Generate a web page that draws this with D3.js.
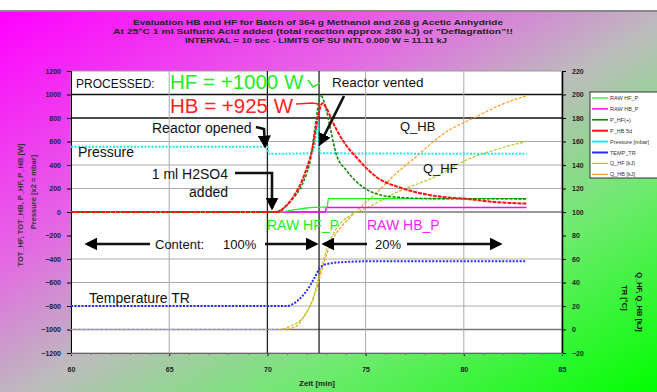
<!DOCTYPE html>
<html>
<head>
<meta charset="utf-8">
<script src="https://cdn.jsdelivr.net/npm/d3@7"></script>
<style>
  body { margin: 0; background: #fff; }
  svg { display: block; font-family: 'Liberation Sans', Arial, sans-serif; }
</style>
</head>
<body>
<div id="chart"></div>
<script>
// ---- data (time in min) ----
const xTicks = [60, 65, 70, 75, 80, 85];
const leftTicks = [1200, 1000, 800, 600, 400, 200, 0, -200, -400, -600, -800, -1000, -1200];
const rightTicks = [220, 200, 180, 160, 140, 120, 100, 80, 60, 40, 20, 0, -20];

const titleLines = [
  'Evaluation HB and HF for Batch of 364 g Methanol and 268 g Acetic Anhydride',
  'At 25\u00b0C 1 ml Sulfuric Acid added (total reaction approx 280 kJ) or "Deflagration"!!',
  'INTERVAL = 10 sec  -  LIMITS OF SU INTL 0.000 W = 11.11 kJ'
];

// left axis [W]
const rawHF = [[60, 0], [70.6, 0], [71.0, 8], [71.5, 22], [72.0, 34], [72.6, 40], [73.05, 44], [73.1, 114], [83.2, 114]];
const rawHB = [[60, 0], [72.95, 0], [73.0, 38], [83.2, 38]];
const hfProc = [[60, 0], [70.3, 0], [70.8, 30], [71.3, 115], [71.7, 210], [72.0, 330], [72.2, 450], [72.4, 690], [72.6, 920], [72.7, 1000],
  [72.9, 930], [73.2, 716], [73.5, 495], [74.05, 350], [74.9, 208], [76.25, 131], [78.4, 114], [83.2, 112]];
const hbProc = [[60, 0], [70.55, 0], [70.9, 45], [71.3, 123], [71.9, 325], [72.3, 546], [72.6, 834], [72.8, 925], [73.0, 886],
  [73.3, 775], [73.85, 606], [74.55, 462], [75.6, 292], [76.75, 208], [78.4, 140], [80.1, 112], [81.8, 82], [83.2, 72]];
const pressure = [[60, 555], [70, 555], [70.05, 495], [72.2, 500], [72.4, 560], [72.55, 790], [72.68, 500], [83.2, 495]];

// right axis [°C] / [kJ]
const tempTR = [[60, 20], [71.0, 20], [71.5, 24], [72.0, 33], [72.4, 44], [72.7, 53], [73.1, 56], [74, 57.5], [75, 58], [83.2, 58]];
const qHF = [[60, 0], [70.5, 0], [71.2, 3], [71.8, 10], [72.3, 25], [72.7, 50], [73.1, 72], [73.6, 88], [74.2, 97], [75, 103],
  [76.75, 118], [78.4, 129], [80.1, 144], [81.8, 154], [83.2, 160]];
const qHB = [[60, 0], [70.8, 0], [71.4, 2], [71.9, 12], [72.3, 25], [72.6, 40], [72.9, 58], [73.3, 76], [73.8, 88], [74.3, 97],
  [75, 108], [75.6, 117], [76.5, 132], [77.5, 146], [79, 167], [80.5, 180], [82, 192], [83.2, 199]];

const legendNames = ['RAW HF_P', 'RAW HB_P', 'P_HF(+)', 'P_HB 5d', 'Pressure [mbar]', 'TEMP_TR', 'Q_HF [kJ]', 'Q_HB [kJ]'];

const W = 657, H = 392;
const plot = { left: 71, right: 562, top: 71, bottom: 353 };

const svg = d3.select('#chart').append('svg').attr('width', W).attr('height', H);

const defs = svg.append('defs');
const grad = defs.append('linearGradient').attr('id', 'bg')
  .attr('x1', 0).attr('y1', 0).attr('x2', 1).attr('y2', 1);
[[0, '#ff00ff'], [0.33, '#e468e4'], [0.52, '#bcbcbc'], [0.72, '#70ea70'], [1, '#00ff00']]
  .forEach(s => grad.append('stop').attr('offset', s[0]).attr('stop-color', s[1]));
const arrow = defs.append('marker').attr('id', 'ah').attr('viewBox', '0 0 10 10')
  .attr('refX', 8).attr('refY', 5).attr('markerWidth', 5).attr('markerHeight', 5)
  .attr('orient', 'auto-start-reverse');
arrow.append('path').attr('d', 'M0,0L10,5L0,10z').attr('fill', '#000');

svg.append('rect').attr('x', 0).attr('y', 11).attr('width', W).attr('height', H - 11).attr('fill', 'url(#bg)');
svg.append('line').attr('x1', 0).attr('x2', W).attr('y1', 11).attr('y2', 11).attr('stroke', '#888').attr('stroke-width', 2);

// title
const tSizes = [[318, 25, 370], [313, 34, 400], [316, 43, 262]];
titleLines.forEach((t, i) => {
  svg.append('text').attr('x', tSizes[i][0]).attr('y', tSizes[i][1])
    .attr('text-anchor', 'middle').attr('font-size', 8).attr('font-weight', 'bold')
    .attr('textLength', tSizes[i][2]).attr('lengthAdjust', 'spacingAndGlyphs')
    .attr('fill', '#222').text(t);
});

const x = d3.scaleLinear().domain([60, 85]).range([plot.left, plot.right]);
const yL = d3.scaleLinear().domain([-1200, 1200]).range([plot.bottom, plot.top]);
const yR = d3.scaleLinear().domain([-20, 220]).range([plot.bottom, plot.top]);

svg.append('rect').attr('x', plot.left).attr('y', plot.top)
  .attr('width', plot.right - plot.left).attr('height', plot.bottom - plot.top)
  .attr('fill', '#fff').attr('stroke', '#999');

// grid
const g = svg.append('g');
leftTicks.filter(v => v > -1200 && v < 1200 && v !== -200).forEach(v => {
  const dark = v === 1000 || v === 800;
  g.append('line').attr('x1', plot.left).attr('x2', plot.right)
    .attr('y1', yL(v)).attr('y2', yL(v))
    .attr('stroke', dark ? '#111' : (v === 0 || v === -1000 ? '#777' : '#aaa'))
    .attr('stroke-width', dark ? 1.6 : (v === 0 || v === -1000 ? 1.6 : 1));
});
[65, 70, 72.63, 75, 80].forEach(v => {
  const dark = v === 70 || v === 72.63;
  g.append('line').attr('x1', x(v)).attr('x2', x(v)).attr('y1', plot.top).attr('y2', plot.bottom)
    .attr('stroke', dark ? '#222' : '#aaa').attr('stroke-width', dark ? 1.3 : 1);
});

// axes
const fs = 7;
svg.append('g').attr('transform', `translate(${plot.left},0)`)
  .call(d3.axisLeft(yL).tickValues(leftTicks).tickSize(4).tickPadding(6).tickFormat(d3.format('d')))
  .call(a => a.selectAll('text').attr('font-size', fs).attr('font-weight', 'bold').attr('fill', '#222'));
svg.append('g').attr('transform', `translate(${plot.right},0)`)
  .call(d3.axisRight(yR).tickValues(rightTicks).tickSizeInner(4).tickSizeOuter(0).tickPadding(6))
  .call(a => a.selectAll('text').attr('font-size', fs).attr('font-weight', 'bold').attr('fill', '#222'))
  .call(a => a.select('.domain').attr('stroke-width', 1.5));
svg.append('g').attr('transform', `translate(0,${plot.bottom})`)
  .call(d3.axisBottom(x).tickValues(xTicks).tickSize(3).tickPadding(11))
  .call(a => a.selectAll('text').attr('font-size', fs).attr('font-weight', 'bold').attr('fill', '#222'))
  .call(a => a.select('.domain').attr('stroke', '#666'));
svg.append('g').attr('transform', `translate(0,${plot.bottom})`)
  .call(d3.axisBottom(x).ticks(25).tickSize(2).tickFormat(''))
  .call(a => a.select('.domain').remove())
  .call(a => a.selectAll('line').attr('stroke', '#777'));

svg.append('text').attr('x', 317).attr('y', 386).attr('text-anchor', 'middle')
  .attr('font-size', 8).attr('font-weight', 'bold').attr('fill', '#222').text('Zeit [min]');

svg.append('text').attr('transform', 'translate(23,205) rotate(-90)').attr('text-anchor', 'middle')
  .attr('font-size', 7.5).attr('font-weight', 'bold').attr('fill', '#333').text('TOT_HF, TOT_HB, P_HF, P_HB [W]');
svg.append('text').attr('transform', 'translate(36,192) rotate(-90)').attr('text-anchor', 'middle')
  .attr('font-size', 7.5).attr('font-weight', 'bold').attr('fill', '#333').text('Pressure [x2 = mbar]');
svg.append('text').attr('transform', 'translate(622,298) rotate(90)').attr('text-anchor', 'middle')
  .attr('font-size', 7.5).attr('font-weight', 'bold').attr('fill', '#111').text('TR [\u00b0C]');
svg.append('text').attr('transform', 'translate(637,302) rotate(90)').attr('text-anchor', 'middle')
  .attr('font-size', 7.5).attr('font-weight', 'bold').attr('fill', '#111').text('Q_HF, Q_HB [kJ]');

// series
const series = [
  { d: qHB, y: yR, c: '#ff9a1a', w: 1.2, dash: '3,1.5' },
  { d: qHF, y: yR, c: '#a6cc22', w: 1.2, dash: '3,1.5' },
  { d: tempTR, y: yR, c: '#2a2aff', w: 2, dash: '2,1.5' },
  { d: pressure, y: yL, c: '#22e6ee', w: 2, dash: '2,1.5' },
  { d: rawHB, y: yL, c: '#ff00ff', w: 1.5, dash: null },
  { d: rawHF, y: yL, c: '#22ee22', w: 1.3, dash: null },
  { d: hfProc, y: yL, c: '#118811', w: 1.6, dash: '3,1.5' },
  { d: hbProc, y: yL, c: '#ff1111', w: 2, dash: '4,1' }
];
series.forEach(s => {
  const line = d3.line().curve(d3.curveMonotoneX).x(d => x(d[0])).y(d => s.y(d[1]));
  svg.append('path').datum(s.d).attr('fill', 'none').attr('stroke', s.c)
    .attr('stroke-width', s.w).attr('stroke-dasharray', s.dash).attr('d', line);
});

// annotations
function txt(t, xx, yy, size, color, anchor) {
  return svg.append('text').attr('x', xx).attr('y', yy).attr('font-size', size)
    .attr('fill', color || '#111').attr('text-anchor', anchor || 'start').text(t);
}
txt('PROCESSED:', 76, 88, 12, '#111');
txt('HF = +1000 W', 170, 89, 20.5, '#22ee22');
txt('HB = +925 W', 170, 113, 20.5, '#ff2222');
txt('Reactor vented', 332, 87, 13.5, '#111');
txt('Reactor opened', 152, 133, 14, '#111');
txt('Pressure', 78, 157, 14, '#111');
txt('1 ml H2SO4', 228, 179, 14, '#111', 'end');
txt('added', 228, 197, 14, '#111', 'end');
txt('RAW HF_P', 267, 230, 14, '#22ee22');
txt('RAW HB_P', 367, 230, 14, '#ff22ff');
txt('Content:', 155, 249, 13, '#111');
txt('100%', 223, 249, 13, '#111');
txt('20%', 375, 249, 13, '#111');
txt('Temperature TR', 89, 303, 14, '#111');
txt('Q_HB', 400, 131, 13, '#111');
txt('Q_HF', 423, 173, 13, '#111');

svg.append('polyline').attr('points', '296,104 312,103 319,104').attr('fill', 'none')
  .attr('stroke', '#ff2222').attr('stroke-width', 1.5);
svg.append('polyline').attr('points', '308,80 313,87 320,83').attr('fill', 'none')
  .attr('stroke', '#22ee22').attr('stroke-width', 1.5);

const arrows = [
  '344,96 320,144',
  '256,127 264,129 265,146',
  '235,173 272,173 272,208',
  '150,244 87,244',
  '265,244 316,244',
  '367,244 324,244',
  '407,244 500,244'
];
arrows.forEach(p => {
  svg.append('polyline').attr('points', p).attr('fill', 'none')
    .attr('stroke', '#111').attr('stroke-width', 2.6).attr('marker-end', 'url(#ah)');
});

// legend
const lg = svg.append('g').attr('transform', 'translate(590,92)');
lg.append('rect').attr('width', 70).attr('height', 86).attr('fill', '#fff').attr('stroke', '#333');
const lgStyles = [series[5], series[4], series[6], series[7], series[3], series[2], series[1], series[0]];
legendNames.forEach((n, i) => {
  const yy = 6 + i * 10.9;
  lg.append('line').attr('x1', 2).attr('x2', 18).attr('y1', yy).attr('y2', yy)
    .attr('stroke', lgStyles[i].c).attr('stroke-width', lgStyles[i].w);
  lg.append('text').attr('x', 20).attr('y', yy + 2).attr('font-size', 5.5).attr('fill', '#333').text(n);
});
</script>
</body>
</html>
